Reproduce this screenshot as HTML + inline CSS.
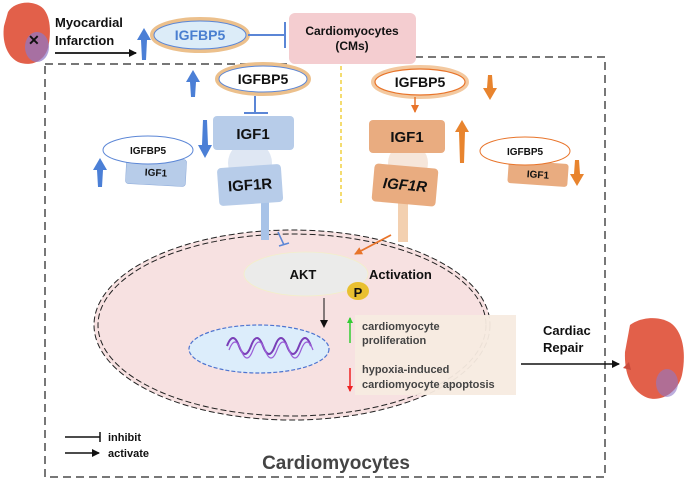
<!DOCTYPE html>
<html><head><meta charset="utf-8"><style>
html,body{margin:0;padding:0;background:#fff}
svg{display:block}
text{font-family:"Liberation Sans",Arial,sans-serif;font-weight:bold}
</style></head><body>
<svg width="685" height="480" viewBox="0 0 685 480" xmlns="http://www.w3.org/2000/svg">
<defs>
<marker id="ab" markerWidth="8" markerHeight="8" refX="7" refY="4" orient="auto" markerUnits="userSpaceOnUse"><path d="M0,0 L8,4 L0,8 z" fill="#111"/></marker>
<marker id="ao" markerWidth="8" markerHeight="8" refX="7" refY="4" orient="auto" markerUnits="userSpaceOnUse"><path d="M0,0 L8,4 L0,8 z" fill="#e8742a"/></marker>
<marker id="ag" markerWidth="6" markerHeight="6" refX="5" refY="3" orient="auto" markerUnits="userSpaceOnUse"><path d="M0,0 L6,3 L0,6 z" fill="#3c3"/></marker>
<marker id="ar" markerWidth="6" markerHeight="6" refX="5" refY="3" orient="auto" markerUnits="userSpaceOnUse"><path d="M0,0 L6,3 L0,6 z" fill="#e22"/></marker>
</defs>
<path d="M45,64 L290,64 M415,57 L605,57 L605,477 L45,477 L45,64" fill="none" stroke="#777" stroke-width="2" stroke-dasharray="8,5"/>
<path d="M8,12 C14,2 30,0 40,6 C50,12 52,30 48,48 C44,62 30,67 18,62 C6,56 2,40 4,26 Z" fill="#e2604a"/>
<ellipse cx="37" cy="47" rx="12" ry="15" fill="#8f78c8" opacity="0.7"/>
<text x="28" y="45" font-size="14" font-weight="normal" fill="#111">✕</text>
<text x="55" y="27" font-size="13" fill="#111">Myocardial</text>
<text x="55" y="45" font-size="13" fill="#111">Infarction</text>
<line x1="55" y1="53" x2="136" y2="53" stroke="#111" stroke-width="1.8" marker-end="url(#ab)"/>
<path d="M144,28 L151,40 L147,40 L146,60 L142,60 L141,40 L137,40 Z" fill="#4b7fd6"/>
<ellipse cx="200" cy="35" rx="48" ry="16" fill="#dcecf8" stroke="#ecc08c" stroke-width="4"/>
<ellipse cx="200" cy="35" rx="46" ry="14" fill="none" stroke="#5b86d6" stroke-width="1"/>
<text x="200" y="40" font-size="14" fill="#4a7fd0" text-anchor="middle">IGFBP5</text>
<line x1="248" y1="35" x2="285" y2="35" stroke="#5b86d6" stroke-width="2"/>
<line x1="285" y1="22" x2="285" y2="48" stroke="#5b86d6" stroke-width="2"/>
<rect x="289" y="13" width="127" height="51" rx="6" fill="#f4cdd0"/>
<text x="352" y="35" font-size="12" fill="#111" text-anchor="middle">Cardiomyocytes</text>
<text x="352" y="50" font-size="12" fill="#111" text-anchor="middle">(CMs)</text>
<line x1="341" y1="66" x2="341" y2="205" stroke="#f0d040" stroke-width="1.5" stroke-dasharray="4,3"/>
<path d="M193,70 L200,82 L196,82 L195,97 L191,97 L190,82 L186,82 Z" fill="#4b7fd6"/>
<ellipse cx="263" cy="79" rx="46" ry="15" fill="#fff" stroke="#ecc08c" stroke-width="4"/>
<ellipse cx="263" cy="79" rx="44" ry="13" fill="none" stroke="#5b86d6" stroke-width="1"/>
<text x="263" y="84" font-size="14" fill="#111" text-anchor="middle">IGFBP5</text>
<line x1="255" y1="96" x2="255" y2="113" stroke="#5b86d6" stroke-width="2"/>
<line x1="244" y1="113" x2="268" y2="113" stroke="#5b86d6" stroke-width="2"/>
<path d="M203,120 L207,120 L208,145 L212,145 L205,158 L198,145 L202,145 Z" fill="#4b7fd6"/>
<circle cx="250" cy="163" r="22" fill="#dfe7f3"/>
<rect x="213" y="116" width="81" height="34" rx="4" fill="#b7cce9"/>
<text x="253" y="139" font-size="15" fill="#111" text-anchor="middle">IGF1</text>
<rect x="261" y="200" width="8" height="42" fill="#a8c3e8"/>
<g transform="rotate(-4 250 184)"><rect x="218" y="166" width="64" height="38" rx="4" fill="#b7cce9"/>
<text x="250" y="190" font-size="15" fill="#111" text-anchor="middle">IGF1R</text></g>
<g transform="rotate(3 155 172)"><rect x="126" y="158" width="60" height="27" rx="3" fill="#b7cce9" stroke="#8aa8d8" stroke-width="0.5"/>
<text x="156" y="176" font-size="10" fill="#111" text-anchor="middle">IGF1</text></g>
<ellipse cx="148" cy="150" rx="45" ry="14" fill="#fff" stroke="#5b86d6" stroke-width="1"/>
<text x="148" y="154" font-size="10" fill="#111" text-anchor="middle">IGFBP5</text>
<path d="M100,158 L107,170 L103,170 L102,187 L98,187 L97,170 L93,170 Z" fill="#4b7fd6"/>
<ellipse cx="420" cy="82" rx="47" ry="15" fill="#fff" stroke="#f3c9a0" stroke-width="4"/>
<ellipse cx="420" cy="82" rx="45" ry="13" fill="none" stroke="#e8742a" stroke-width="1.2"/>
<text x="420" y="87" font-size="14" fill="#111" text-anchor="middle">IGFBP5</text>
<line x1="415" y1="97" x2="415" y2="112" stroke="#e8742a" stroke-width="1.5" marker-end="url(#ao)"/>
<path d="M488,75 L492,75 L493,88 L497,88 L490,100 L483,88 L487,88 Z" fill="#e8842e"/>
<circle cx="408" cy="163" r="20" fill="#f6e6da"/>
<rect x="369" y="120" width="76" height="33" rx="4" fill="#e9ac80"/>
<text x="407" y="142" font-size="15" fill="#111" text-anchor="middle">IGF1</text>
<rect x="398" y="200" width="10" height="42" fill="#f3d0b0"/>
<g transform="rotate(5 405 185)"><rect x="373" y="166" width="64" height="38" rx="4" fill="#e9ac80"/>
<text x="405" y="190" font-size="15" font-style="italic" fill="#111" text-anchor="middle">IGF1R</text></g>
<path d="M462,120 L469,132 L465,132 L464,163 L460,163 L459,132 L455,132 Z" fill="#e8842e"/>
<g transform="rotate(4 538 174)"><rect x="508" y="162" width="60" height="23" rx="3" fill="#e9ac80"/>
<text x="538" y="178" font-size="10" fill="#111" text-anchor="middle">IGF1</text></g>
<ellipse cx="525" cy="151" rx="45" ry="14" fill="#fff" stroke="#e8742a" stroke-width="1"/>
<text x="525" y="155" font-size="10" fill="#111" text-anchor="middle">IGFBP5</text>
<path d="M575,160 L579,160 L580,174 L584,174 L577,186 L570,174 L574,174 Z" fill="#e8842e"/>
<ellipse cx="292" cy="325" rx="198" ry="95" fill="#f7e1e1"/>
<ellipse cx="292" cy="325" rx="198" ry="95" fill="none" stroke="#222" stroke-width="1" stroke-dasharray="6,3"/>
<ellipse cx="292" cy="325" rx="194" ry="91" fill="none" stroke="#222" stroke-width="1" stroke-dasharray="6,3"/>
<rect x="261" y="228" width="8" height="12" fill="#a8c3e8"/>
<rect x="398" y="228" width="10" height="12" fill="#f3d0b0"/>
<line x1="278" y1="232" x2="284" y2="245" stroke="#5b86d6" stroke-width="1.5"/>
<line x1="279" y1="246" x2="289" y2="243" stroke="#5b86d6" stroke-width="1.5"/>
<line x1="391" y1="235" x2="355" y2="254" stroke="#e8742a" stroke-width="1.8" marker-end="url(#ao)"/>
<ellipse cx="306" cy="274" rx="62" ry="22" fill="#ebebea" stroke="#f3efc8" stroke-width="0.8"/>
<text x="303" y="279" font-size="13" fill="#111" text-anchor="middle">AKT</text>
<text x="369" y="279" font-size="13" fill="#111">Activation</text>
<ellipse cx="358" cy="291" rx="11" ry="9" fill="#e9c030"/>
<text x="358" y="297" font-size="13" font-weight="normal" fill="#111" text-anchor="middle">P</text>
<line x1="324" y1="298" x2="324" y2="327" stroke="#111" stroke-width="1" marker-end="url(#ab)"/>
<ellipse cx="259" cy="349" rx="70" ry="24" fill="#dcedfb" stroke="#4d74d0" stroke-width="1.2" stroke-dasharray="4,2"/>
<path d="M227,346 q6,-16 12,0 q6,16 12,0 q6,-16 12,0 q6,16 12,0 q6,-16 12,0 q6,16 12,0 q6,-16 12,0" fill="none" stroke="#7a3fb8" stroke-width="2"/>
<path d="M229,350 q6,-16 12,0 q6,16 12,0 q6,-16 12,0 q6,16 12,0 q6,-16 12,0 q6,16 12,0 q6,-16 12,0" fill="none" stroke="#9a5fd8" stroke-width="1.2"/>
<rect x="355" y="315" width="161" height="80" fill="#f7ebe0" opacity="0.95"/>
<line x1="350" y1="343" x2="350" y2="318" stroke="#3c3" stroke-width="1.5" marker-end="url(#ag)"/>
<line x1="350" y1="368" x2="350" y2="391" stroke="#e22" stroke-width="1.5" marker-end="url(#ar)"/>
<g font-size="11" fill="#444">
<text x="362" y="330">cardiomyocyte</text>
<text x="362" y="344">proliferation</text>
<text x="362" y="373">hypoxia-induced</text>
<text x="362" y="388">cardiomyocyte apoptosis</text>
</g>
<text x="543" y="335" font-size="13" fill="#111">Cardiac</text>
<text x="543" y="352" font-size="13" fill="#111">Repair</text>
<line x1="521" y1="364" x2="619" y2="364" stroke="#111" stroke-width="1.5" marker-end="url(#ab)"/>
<path d="M630,325 C642,316 662,316 672,324 C684,334 686,356 682,375 C678,392 662,402 648,398 C632,392 624,375 625,352 Z" fill="#e2604a"/>
<path d="M623,368 l6,-6 l2,8 z" fill="#c94a3a"/>
<ellipse cx="667" cy="383" rx="11" ry="14" fill="#8f78c8" opacity="0.6"/>
<line x1="65" y1="437" x2="100" y2="437" stroke="#111" stroke-width="1.5"/>
<line x1="100" y1="432" x2="100" y2="442" stroke="#111" stroke-width="1.5"/>
<text x="108" y="441" font-size="11" fill="#111">inhibit</text>
<line x1="65" y1="453" x2="99" y2="453" stroke="#111" stroke-width="1.5" marker-end="url(#ab)"/>
<text x="108" y="457" font-size="11" fill="#111">activate</text>
<text x="336" y="469" font-size="19" fill="#444" text-anchor="middle">Cardiomyocytes</text>
</svg>
</body></html>
